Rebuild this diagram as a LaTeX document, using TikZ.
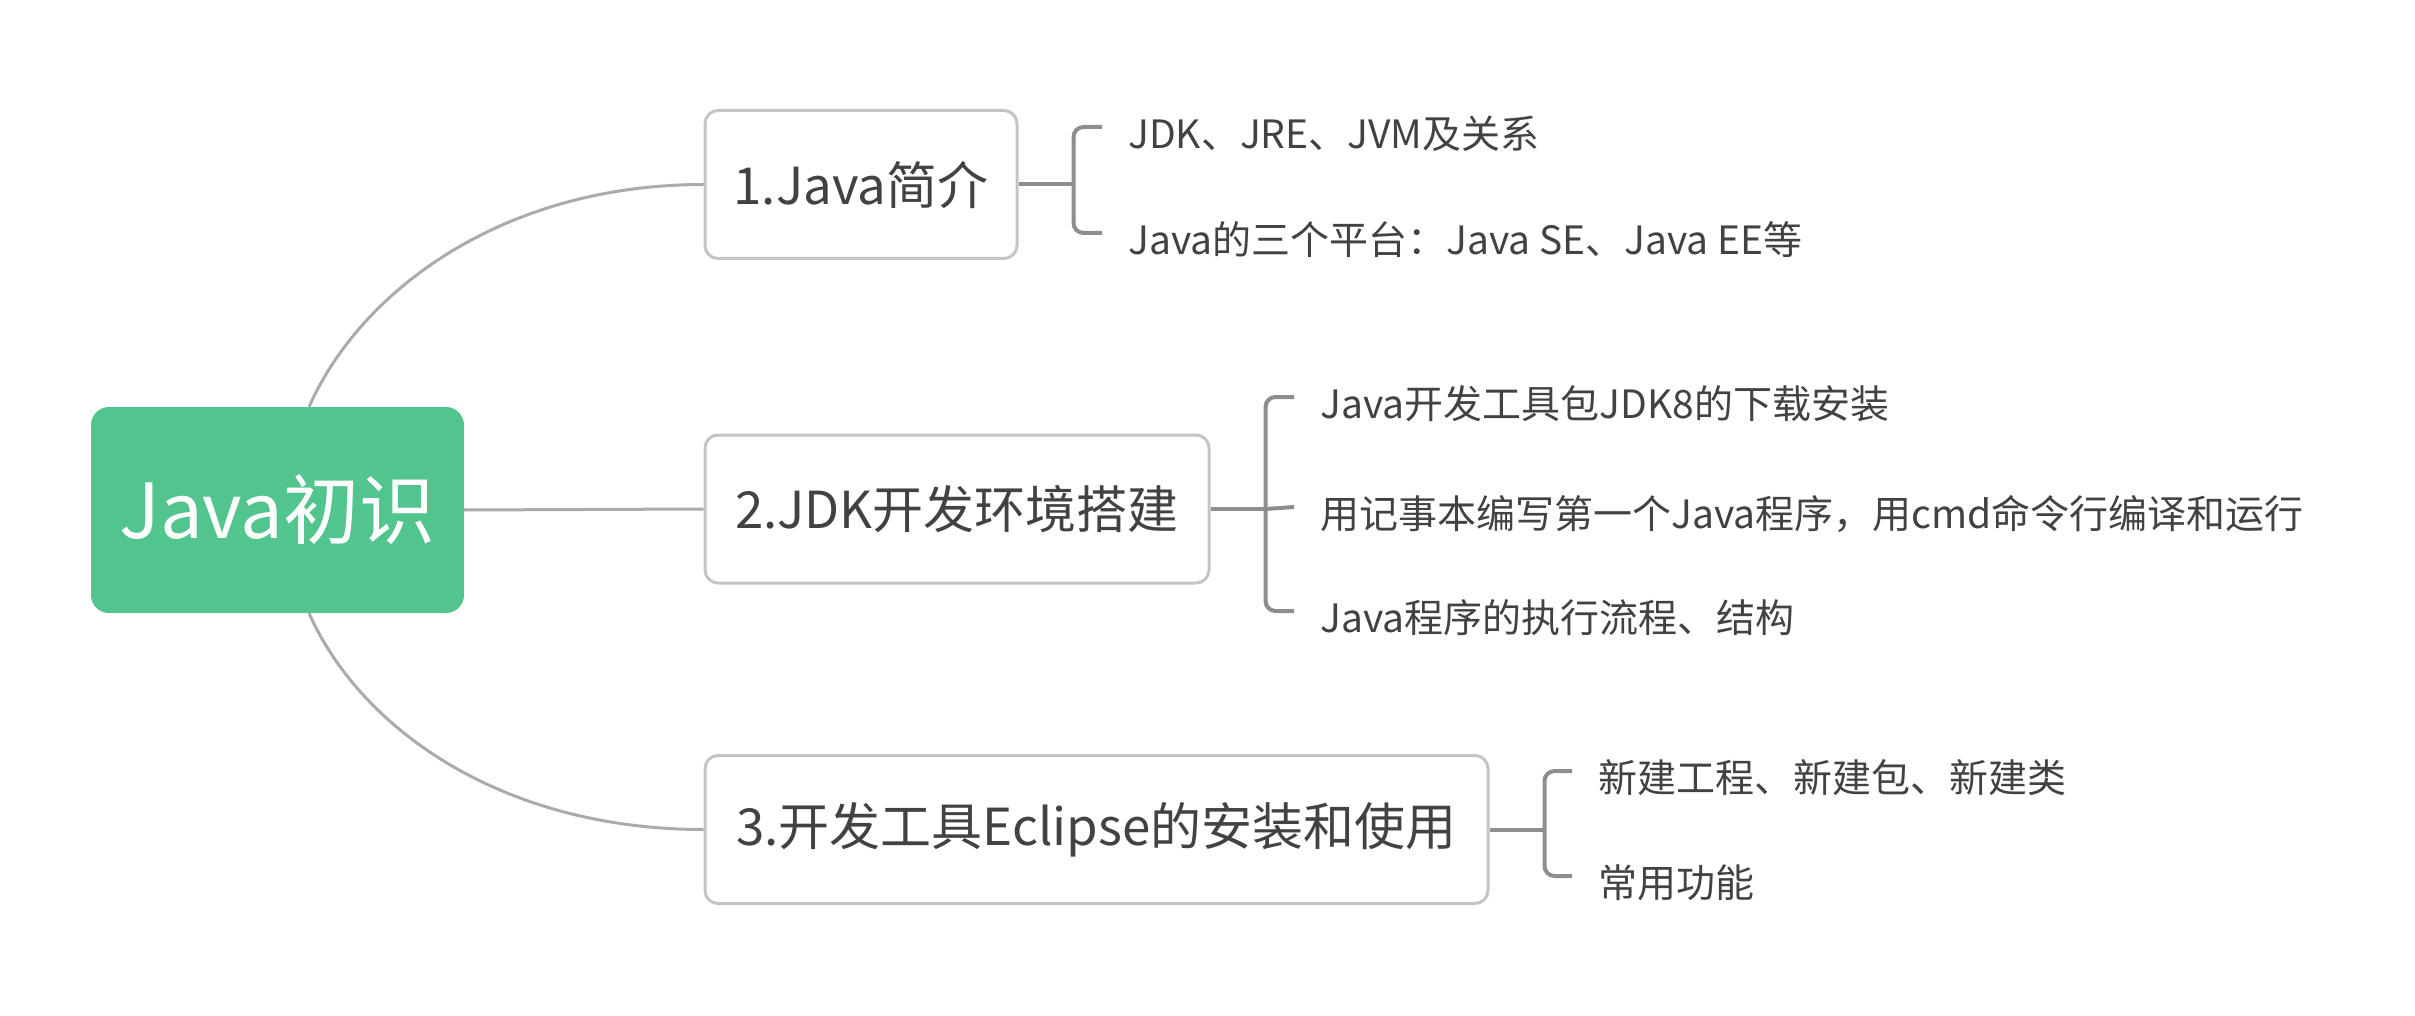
\documentclass[tikz,border=0pt]{standalone}
\usepackage{fontspec}
\setmainfont{Noto Sans CJK SC}
\usetikzlibrary{positioning}

\definecolor{rootgreen}{HTML}{52C48D}
\definecolor{boxgray}{HTML}{C4C4C4}
\definecolor{linegray}{HTML}{ABABAB}
\definecolor{forkgray}{HTML}{8E8E8E}
\definecolor{textgray}{HTML}{424242}

\begin{document}
\begin{tikzpicture}[
    x=1pt, y=-1pt,
    root/.style={rectangle, rounded corners=18pt, fill=rootgreen, text=white, minimum width=373pt, minimum height=206pt, inner sep=0pt, font=\fontsize{76pt}{90pt}\selectfont},
    topic/.style={rectangle, rounded corners=13pt, draw=boxgray, line width=3pt, fill=white, text=textgray, minimum height=148pt, inner sep=0pt, anchor=west, font=\fontsize{51pt}{60pt}\selectfont},
    leaf/.style={anchor=west, inner sep=0pt, text=textgray, font=\fontsize{39pt}{47pt}\selectfont},
    link/.style={draw=linegray, line width=3pt},
    fork/.style={draw=forkgray, line width=4pt, rounded corners=10pt}
]
\useasboundingbox (0,0) rectangle (2415,1016);

% Central topic
\node[root] (root) at (277.5,510) {Java初识};

% Main topics
\node[topic, minimum width=312pt] (intro) at (703.5,184.5) {1.Java简介};
\node[topic, minimum width=504pt] (jdk) at (703.5,509) {2.JDK开发环境搭建};
\node[topic, minimum width=783pt] (eclipse) at (703.5,829.5) {3.开发工具Eclipse的安装和使用};

% Sub topics
\node[leaf] (intro-a) at (1128,134) {JDK、JRE、JVM及关系};
\node[leaf] (intro-b) at (1128,240) {Java的三个平台：Java SE、Java EE等};

\node[leaf] (jdk-a) at (1320,404) {Java开发工具包JDK8的下载安装};
\node[leaf] (jdk-b) at (1320,514) {用记事本编写第一个Java程序，用cmd命令行编译和运行};
\node[leaf] (jdk-c) at (1320,618) {Java程序的执行流程、结构};

\node[leaf] (ecl-a) at (1598,778) {新建工程、新建包、新建类};
\node[leaf] (ecl-b) at (1598,883) {常用功能};

% Connectors - central topic
\draw[link] (root.73) .. controls +(52,-117) and +(-200,0) .. (intro.west);
\draw[link] (root.east) -- (jdk.west);
\draw[link] (root.-73) .. controls +(52,117) and +(-200,0) .. (eclipse.west);

% Connectors - sub topics
\draw[fork] (intro.east) -- ++(55,0) coordinate (intro-fork);
\draw[fork] ([shift={(-26pt,7pt)}]intro-a.west) -| (intro-fork) |- ([shift={(-26pt,7pt)}]intro-b.west);

\draw[fork] (jdk.east) -- ++(55,0) coordinate (jdk-fork);
\draw[fork] ([shift={(-26pt,7pt)}]jdk-a.west) -| (jdk-fork) |- ([shift={(-26pt,7pt)}]jdk-c.west);
\draw[fork] (jdk-fork) -- ([shift={(-26pt,7pt)}]jdk-b.west);

\draw[fork] (eclipse.east) -- ++(55,0) coordinate (ecl-fork);
\draw[fork] ([shift={(-26pt,7pt)}]ecl-a.west) -| (ecl-fork) |- ([shift={(-26pt,7pt)}]ecl-b.west);

\end{tikzpicture}
\end{document}
